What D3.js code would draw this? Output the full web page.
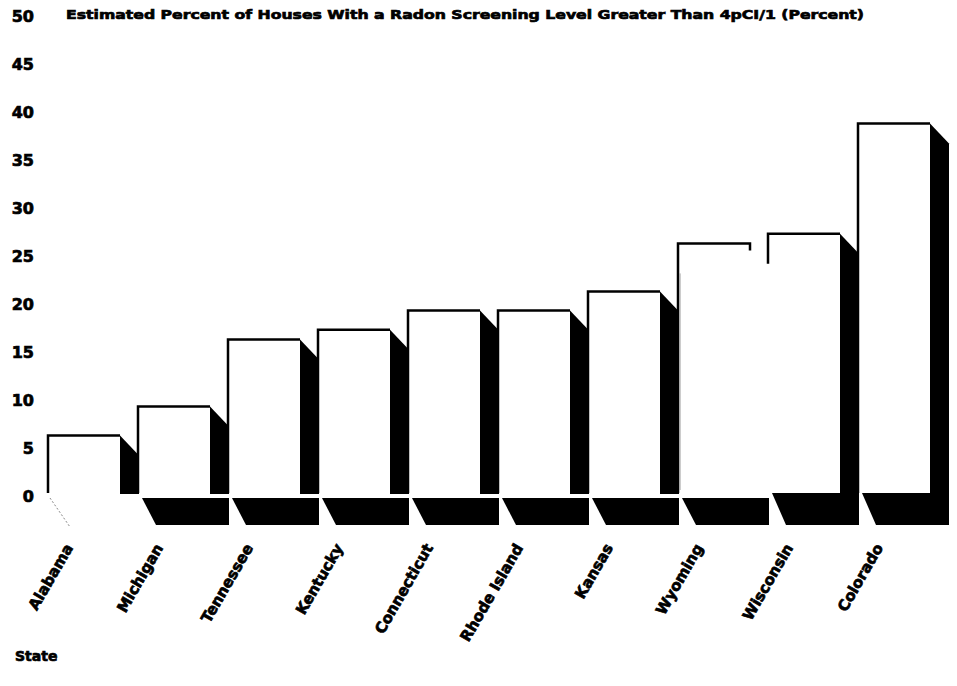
<!DOCTYPE html>
<html lang="en">
<head>
    <meta charset="UTF-8">
    <title>Radon Screening by State</title>
    <script src="https://cdnjs.cloudflare.com/ajax/libs/d3/7.8.5/d3.min.js"></script>
    <style>
        body { margin: 0; background: #ffffff; }
        text { font-family: "DejaVu Sans", sans-serif; font-weight: bold; fill: #000; }
    </style>
</head>
<body>

<div id="chart_holder"></div>

<script>
    // data
    var states = ["Alabama", "Michigan", "Tennessee", "Kentucky", "Connecticut",
                  "Rhode Island", "Kansas", "Wyoming", "Wisconsin", "Colorado"];
    var percents = [6, 9, 16, 17, 19, 19, 21, 26, 27, 38.5];
    var yTicks = [0, 5, 10, 15, 20, 25, 30, 35, 40, 45, 50];
    var titleText = "Estimated Percent of Houses With a Radon Screening Level Greater Than 4pCI/1 (Percent)";
    var xTitle = "State";

    var width = 957;
    var height = 686;
    var depth = 19;

    // scan artefacts in the original print
    var noFloor = new Set(["Alabama"]);
    var noSide = new Set(["Wyoming"]);
    var shortEdge = new Set(["Wisconsin"]);
    var flushFloor = new Set(["Wisconsin", "Colorado"]);

    var rows = states.map(function (s, i) { return {state: s, value: percents[i]}; });

    var svg = d3.select("#chart_holder")
        .append("svg")
        .attr("width", width)
        .attr("height", height);
    svg.append("rect")
        .attr("width", "100%")
        .attr("height", "100%")
        .attr("fill", "#ffffff");

    var x = d3.scaleBand()
        .domain(states)
        .range([48, 930])
        .paddingInner(0.2)
        .paddingOuter(0);

    var y = d3.scaleLinear()
        .domain([0, 50])
        .range([493, 13]);

    var w = x.bandwidth();
    var base = y(0);

    function heavy(sel, size) {
        sel.attr("font-size", size)
            .attr("font-family", "DejaVu Sans")
            .attr("font-weight", "bold")
            .attr("fill", "#000")
            .attr("stroke", "#000")
            .attr("stroke-width", 0.7);
    }

    // y axis labels only
    var yAxis = svg.append("g")
        .attr("transform", "translate(34,3)")
        .call(d3.axisLeft(y).tickValues(yTicks).tickSize(0).tickPadding(0));
    yAxis.select(".domain").remove();
    heavy(yAxis.selectAll("text"), 16);

    svg.append("text")
        .attr("x", 66)
        .attr("y", 19)
        .attr("textLength", 798)
        .attr("lengthAdjust", "spacingAndGlyphs")
        .text(titleText)
        .call(heavy, 13);

    var bars = svg.selectAll(".bar")
        .data(rows)
        .enter()
        .append("g")
        .attr("class", "bar");

    // floor shadow
    bars.filter(function (d) { return !noFloor.has(d.state); })
        .append("polygon")
        .attr("fill", "#000")
        .attr("points", function (d) {
            var x0 = x(d.state);
            var t = flushFloor.has(d.state) ? base : base + 5;
            return [[x0 + 4, t], [x0 + w + depth, t],
                    [x0 + w + depth, base + 32], [x0 + 18, base + 32]].join(" ");
        });
    bars.filter(function (d) { return noFloor.has(d.state); })
        .append("line")
        .attr("x1", function (d) { return x(d.state) + 2; })
        .attr("y1", base + 5)
        .attr("x2", function (d) { return x(d.state) + 22; })
        .attr("y2", base + 34)
        .attr("stroke", "#888")
        .attr("stroke-width", 1)
        .attr("stroke-dasharray", "2,2");

    // side shadow
    bars.filter(function (d) { return !noSide.has(d.state); })
        .append("polygon")
        .attr("fill", "#000")
        .attr("points", function (d) {
            var x0 = x(d.state) + w;
            var t = y(d.value);
            return [[x0, t], [x0 + depth, t + depth + 1], [x0 + depth, base + 1], [x0, base + 1]].join(" ");
        });

    // front face
    bars.append("rect")
        .attr("x", function (d) { return x(d.state); })
        .attr("y", function (d) { return y(d.value); })
        .attr("width", w)
        .attr("height", function (d) { return base - y(d.value); })
        .attr("fill", "#fff");

    bars.append("path")
        .attr("fill", "none")
        .attr("stroke", "#000")
        .attr("stroke-width", 2.5)
        .attr("d", function (d) {
            var x0 = x(d.state);
            var t = y(d.value);
            var b = shortEdge.has(d.state) ? t + 30 : base;
            var p = "M" + x0 + "," + b + "L" + x0 + "," + t + "L" + (x0 + w) + "," + t;
            if (noSide.has(d.state)) p += "L" + (x0 + w) + "," + (t + 7);
            return p;
        });

    // faint left edge where the print dropped out
    bars.filter(function (d) { return noSide.has(d.state); })
        .append("line")
        .attr("x1", function (d) { return x(d.state) + 2; })
        .attr("x2", function (d) { return x(d.state) + 2; })
        .attr("y1", function (d) { return y(d.value) + 30; })
        .attr("y2", base - 3)
        .attr("stroke", "#999")
        .attr("stroke-width", 1);

    // state labels
    var xAxis = svg.append("g")
        .attr("transform", "translate(0,545)")
        .call(d3.axisBottom(x).tickSize(0).tickPadding(0));
    xAxis.select(".domain").remove();
    heavy(xAxis.selectAll("text"), 15);
    xAxis.selectAll("text")
        .attr("text-anchor", "end")
        .attr("x", 0)
        .attr("y", 0)
        .attr("dy", "0.35em")
        .attr("transform", "translate(-15,0) rotate(-60)");

    svg.append("text")
        .attr("x", 15)
        .attr("y", 661)
        .text(xTitle)
        .call(heavy, 14);
</script>

</body>
</html>
